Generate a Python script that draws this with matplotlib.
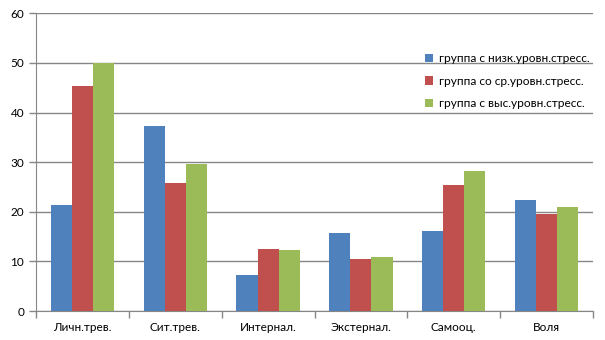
import matplotlib
matplotlib.use("Agg")
import matplotlib.pyplot as plt
import numpy as np

categories = ["Личн.трев.", "Сит.трев.", "Интернал.", "Экстернал.", "Самооц.", "Воля"]
series_names = ["группа с низк.уровн.стресс.", "группа со ср.уровн.стресс.", "группа с выс.уровн.стресс."]
low = [21.4, 37.3, 7.3, 15.7, 16.1, 22.4]
mid = [45.4, 25.8, 12.5, 10.5, 25.4, 19.6]
high = [50.0, 29.6, 12.3, 10.9, 28.2, 21.0]
colors = ["#4F81BD", "#C0504D", "#9BBB59"]

plt.rcParams['font.family'] = ['Lato', 'DejaVu Sans']
fig = plt.figure(figsize=(6.05, 3.4), dpi=100)
ax = fig.add_axes([36/605, 1-311/340, (593-36)/605, (311-13.3)/340])

x = np.arange(len(categories))
w = 0.227
for i, (vals, c, name) in enumerate(zip([low, mid, high], colors, series_names)):
    ax.bar(x + (i-1)*w, vals, width=w, color=c, label=name, zorder=3)

ax.set_xlim(-0.5, len(categories)-0.5)
ax.set_ylim(0, 60)
ax.set_yticks(range(0, 61, 10))
ax.yaxis.grid(True, color="#868686", linewidth=1, zorder=0)
ax.set_xticks(x)
ax.set_xticklabels(categories, fontsize=8.5)
ax.set_xticks(np.arange(-0.5, len(categories), 1), minor=True)
ax.tick_params(axis='x', which='major', length=0, pad=8)
ax.tick_params(axis='x', which='minor', length=5, color="#868686", width=1)
ax.tick_params(axis='y', length=5, color="#868686", labelsize=8.5, width=1)
for s in ['top', 'right']:
    ax.spines[s].set_visible(False)
for s in ['left', 'bottom']:
    ax.spines[s].set_color("#868686")

ax.legend(loc='upper left', bbox_to_anchor=(0.692, 0.878), frameon=False, fontsize=8.6,
          handlelength=0.7, handleheight=0.7, handletextpad=0.5, labelspacing=0.95,
          borderaxespad=0, borderpad=0.3)

fig.savefig("out.png", dpi=100)
